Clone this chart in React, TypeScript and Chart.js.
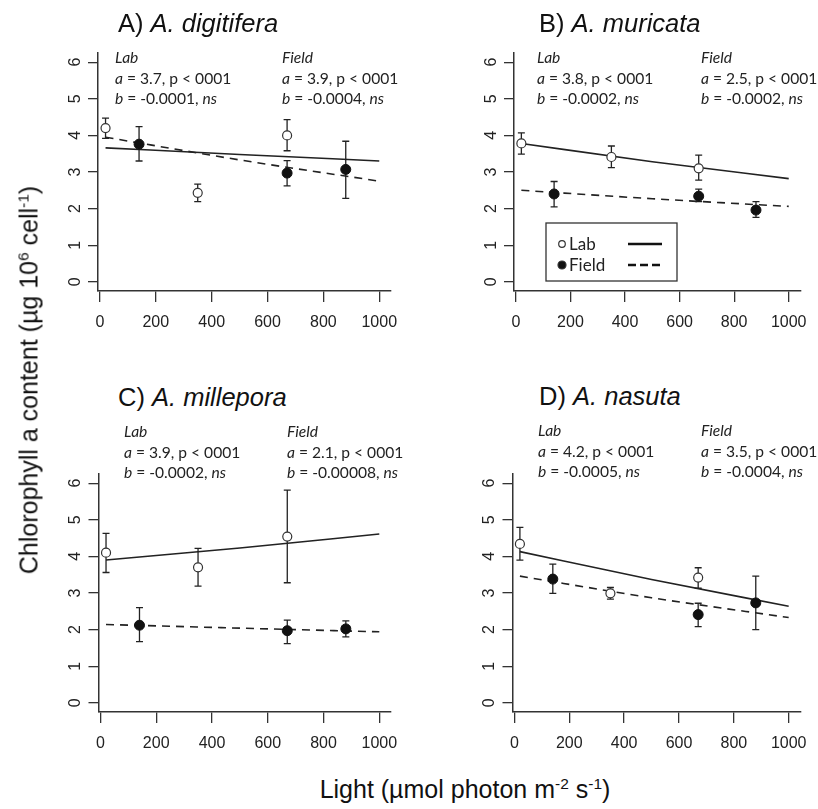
import React, { useEffect, useRef } from "react";
import { Chart, registerables } from "chart.js";
Chart.register(...registerables);

// ---------- data ----------
const xTicks = [0, 200, 400, 600, 800, 1000];
const yTicks = [0, 1, 2, 3, 4, 5, 6];
const labLight = [20, 350, 670];
const fieldLight = [140, 670, 880];
const fitLight = [20, 500, 1000];

// Panel A  A. digitifera
const labMeanA = [4.2, 2.43, 4.0];
const labLoA = [3.92, 2.19, 3.58];
const labHiA = [4.47, 2.67, 4.43];
const fieldMeanA = [3.76, 2.97, 3.07];
const fieldLoA = [3.3, 2.62, 2.28];
const fieldHiA = [4.24, 3.31, 3.84];
const labFitA = [3.66, 3.48, 3.3];
const fieldFitA = [3.95, 3.33, 2.75];

// Panel B  A. muricata
const labMeanB = [3.78, 3.41, 3.1];
const labLoB = [3.49, 3.12, 2.78];
const labHiB = [4.07, 3.71, 3.46];
const fieldMeanB = [2.4, 2.34, 1.96];
const fieldLoB = [2.05, 2.19, 1.76];
const fieldHiB = [2.74, 2.53, 2.19];
const labFitB = [3.78, 3.28, 2.82];
const fieldFitB = [2.5, 2.27, 2.06];

// Panel C  A. millepora
const labMeanC = [4.1, 3.7, 4.54];
const labLoC = [3.56, 3.19, 3.28];
const labHiC = [4.63, 4.22, 5.81];
const fieldMeanC = [2.12, 1.97, 2.02];
const fieldLoC = [1.67, 1.62, 1.8];
const fieldHiC = [2.6, 2.26, 2.24];
const labFitC = [3.9, 4.23, 4.61];
const fieldFitC = [2.14, 2.04, 1.94];

// Panel D  A. nasuta
const labMeanD = [4.34, 2.99, 3.42];
const labLoD = [3.9, 2.83, 3.13];
const labHiD = [4.79, 3.15, 3.69];
const fieldMeanD = [3.38, 2.41, 2.73];
const fieldLoD = [2.99, 2.08, 2.0];
const fieldHiD = [3.79, 2.72, 3.46];
const labFitD = [4.13, 3.37, 2.64];
const fieldFitD = [3.46, 2.87, 2.33];

const panelLetters = ["A)", "B)", "C)", "D)"];
const speciesNames = ["A. digitifera", "A. muricata", "A. millepora", "A. nasuta"];
const labA = ["3.7", "3.8", "3.9", "4.2"];
const labB = ["-0.0001", "-0.0002", "-0.0002", "-0.0005"];
const fieldA = ["3.9", "2.5", "2.1", "3.5"];
const fieldB = ["-0.0004", "-0.0002", "-0.00008", "-0.0004"];
const seriesNames = ["Lab", "Field"];

const labMeans = [labMeanA, labMeanB, labMeanC, labMeanD];
const labLos = [labLoA, labLoB, labLoC, labLoD];
const labHis = [labHiA, labHiB, labHiC, labHiD];
const fieldMeans = [fieldMeanA, fieldMeanB, fieldMeanC, fieldMeanD];
const fieldLos = [fieldLoA, fieldLoB, fieldLoC, fieldLoD];
const fieldHis = [fieldHiA, fieldHiB, fieldHiC, fieldHiD];
const labFits = [labFitA, labFitB, labFitC, labFitD];
const fieldFits = [fieldFitA, fieldFitB, fieldFitC, fieldFitD];

// ---------- layout ----------
const YW = 50;
const XH = 50;
const layouts = [
  { canvas: { left: 0, top: 0, w: 409, h: 345 }, area: { l: 98, t: 53, r: 391, b: 291 },
    title: { x: 118, y: 23 }, ann: { lx: 115, fx: 282, y: 47 }, legend: false },
  { canvas: { left: 409, top: 0, w: 409, h: 345 }, area: { l: 514, t: 53, r: 806, b: 291 },
    title: { x: 539, y: 23 }, ann: { lx: 537, fx: 701, y: 47 }, legend: true },
  { canvas: { left: 0, top: 420, w: 409, h: 345 }, area: { l: 98.5, t: 474, r: 391, b: 712 },
    title: { x: 118, y: 397 }, ann: { lx: 124, fx: 287, y: 421 }, legend: false },
  { canvas: { left: 409, top: 420, w: 409, h: 345 }, area: { l: 512.5, t: 474, r: 805, b: 712 },
    title: { x: 539, y: 396 }, ann: { lx: 538, fx: 701, y: 420 }, legend: false },
];

const INK = "#222";
const SANS = "'Liberation Sans', Arial, sans-serif";
const TICK_FONT = { family: SANS, size: 16 };

const errorBarPlugin = {
  id: "errbars",
  beforeDatasetsDraw(chart: any, _a: any, opts: any) {
    const { ctx } = chart;
    const xs = chart.scales.x;
    const ys = chart.scales.y;
    ctx.save();
    ctx.strokeStyle = INK;
    ctx.lineWidth = 1.3;
    for (const g of opts.groups || []) {
      g.x.forEach((xv: number, i: number) => {
        const px = xs.getPixelForValue(xv);
        const top = ys.getPixelForValue(g.hi[i]);
        const bot = ys.getPixelForValue(g.lo[i]);
        ctx.beginPath();
        ctx.moveTo(px, top);
        ctx.lineTo(px, bot);
        ctx.moveTo(px - 3.5, top);
        ctx.lineTo(px + 3.5, top);
        ctx.moveTo(px - 3.5, bot);
        ctx.lineTo(px + 3.5, bot);
        ctx.stroke();
      });
    }
    ctx.restore();
  },
};

const legendBoxPlugin = {
  id: "legendbox",
  afterDatasetsDraw(chart: any, _a: any, opts: any) {
    if (!opts.show) return;
    const { ctx, chartArea } = chart;
    const bx = chartArea.left + 32;
    const by = chartArea.top + 170;
    const bw = 131;
    const bh = 58;
    ctx.save();
    ctx.fillStyle = "#fff";
    ctx.fillRect(bx, by, bw, bh);
    ctx.strokeStyle = "#333";
    ctx.lineWidth = 1.3;
    ctx.strokeRect(bx, by, bw, bh);
    const rows = [by + 21, by + 42];
    const ds = chart.data.datasets;
    ctx.font = "17px Lato, sans-serif";
    ctx.textBaseline = "middle";
    [0, 1].forEach((i) => {
      const y = rows[i];
      ctx.beginPath();
      ctx.arc(bx + 16, y, i === 0 ? 3.3 : 4, 0, Math.PI * 2);
      ctx.fillStyle = i === 0 ? "#fff" : "#111";
      ctx.fill();
      ctx.strokeStyle = "#333";
      ctx.lineWidth = 1.2;
      ctx.stroke();
      ctx.fillStyle = "#222";
      ctx.fillText(ds[i].label, bx + 23, y + 1);
      ctx.beginPath();
      ctx.lineWidth = 2.6;
      ctx.strokeStyle = "#111";
      ctx.setLineDash(i === 0 ? [] : [8, 4]);
      ctx.moveTo(bx + 82, y);
      ctx.lineTo(bx + 116, y);
      ctx.stroke();
      ctx.setLineDash([]);
    });
    ctx.restore();
  },
};

function Panel({ idx }: { idx: number }) {
  const ref = useRef<HTMLCanvasElement | null>(null);
  const L = layouts[idx];
  useEffect(() => {
    const c = L.canvas;
    const a = L.area;
    const pad = {
      left: a.l - c.left - YW,
      top: a.t - c.top,
      right: c.left + c.w - a.r,
      bottom: c.top + c.h - a.b - XH,
    };
    const pts = (xs: number[], ys: number[]) => xs.map((x, i) => ({ x, y: ys[i] }));
    const chart = new Chart(ref.current as HTMLCanvasElement, {
      type: "scatter",
      data: {
        datasets: [
          {
            label: seriesNames[0],
            data: pts(labLight, labMeans[idx]),
            pointRadius: 4.5,
            pointBackgroundColor: "#fff",
            pointBorderColor: "#333",
            pointBorderWidth: 1.2,
            showLine: false,
            order: 0,
          },
          {
            label: seriesNames[1],
            data: pts(fieldLight, fieldMeans[idx]),
            pointRadius: 5,
            pointBackgroundColor: "#111",
            pointBorderColor: "#111",
            pointBorderWidth: 1,
            showLine: false,
            order: 0,
          },
          {
            label: seriesNames[0] + " fit",
            data: pts(fitLight, labFits[idx]),
            showLine: true,
            borderColor: INK,
            borderWidth: 1.6,
            pointRadius: 0,
            cubicInterpolationMode: "monotone",
            order: 1,
          },
          {
            label: seriesNames[1] + " fit",
            data: pts(fitLight, fieldFits[idx]),
            showLine: true,
            borderColor: INK,
            borderWidth: 1.6,
            borderDash: [8, 6],
            pointRadius: 0,
            cubicInterpolationMode: "monotone",
            order: 1,
          },
        ],
      },
      options: {
        animation: false,
        responsive: false,
        layout: { padding: pad },
        plugins: {
          legend: { display: false },
          tooltip: { enabled: false },
          title: { display: false },
          errbars: {
            groups: [
              { x: labLight, lo: labLos[idx], hi: labHis[idx] },
              { x: fieldLight, lo: fieldLos[idx], hi: fieldHis[idx] },
            ],
          },
          legendbox: { show: L.legend },
        } as any,
        scales: {
          x: {
            type: "linear",
            min: -7,
            max: 1042,
            afterBuildTicks: (s: any) => {
              s.ticks = xTicks.map((v) => ({ value: v }));
            },
            afterFit: (s: any) => {
              s.height = XH;
            },
            grid: { drawOnChartArea: false, drawTicks: true, tickLength: 11, color: "#333", lineWidth: 1.3 },
            border: { display: true, color: "#333", width: 1.5 },
            ticks: {
              font: TICK_FONT,
              color: INK,
              padding: 11,
              autoSkip: false,
              maxRotation: 0,
              callback: (v: any) => String(v),
            },
          },
          y: {
            type: "linear",
            min: -0.25,
            max: 6.25,
            afterBuildTicks: (s: any) => {
              s.ticks = yTicks.map((v) => ({ value: v }));
            },
            afterFit: (s: any) => {
              s.width = YW;
            },
            grid: { drawOnChartArea: false, drawTicks: true, tickLength: 10, color: "#333", lineWidth: 1.3 },
            border: { display: true, color: "#333", width: 1.5 },
            ticks: {
              font: TICK_FONT,
              color: INK,
              padding: 8,
              autoSkip: false,
              minRotation: 90,
              maxRotation: 90,
              crossAlign: "center",
              callback: (v: any) => String(v),
            },
          },
        },
      } as any,
      plugins: [errorBarPlugin, legendBoxPlugin] as any,
    });
    return () => chart.destroy();
  }, [idx]);
  return (
    <canvas
      ref={ref}
      width={L.canvas.w}
      height={L.canvas.h}
      style={{ position: "absolute", left: L.canvas.left, top: L.canvas.top, width: L.canvas.w, height: L.canvas.h }}
    />
  );
}

const annFont = "Lato, 'Open Sans', sans-serif";

function Stats({ x, y, head, a, b }: { x: number; y: number; head: string; a: string; b: string }) {
  return (
    <div
      style={{
        position: "absolute",
        left: x,
        top: y,
        fontFamily: annFont,
        fontSize: 15.6,
        lineHeight: "20.5px",
        color: "#222",
        whiteSpace: "nowrap",
      }}
    >
      <div><i>{head}</i></div>
      <div><i>a</i> = {a}, p &lt; 0001</div>
      <div><i>b</i> = {b}, <i>ns</i></div>
    </div>
  );
}

const sup: React.CSSProperties = { fontSize: "0.62em", position: "relative", top: "-0.6em", verticalAlign: "baseline" };

export default function App() {
  return (
    <div style={{ position: "fixed", left: 0, top: 0, width: 818, height: 809, background: "#fff", overflow: "hidden" }}>
      {layouts.map((_, i) => (
        <Panel key={i} idx={i} />
      ))}
      {layouts.map((L, i) => (
        <div
          key={"t" + i}
          style={{
            position: "absolute",
            left: L.title.x,
            top: L.title.y - 14,
            lineHeight: "28px",
            fontFamily: SANS,
            fontSize: 25.5,
            color: "#111",
            whiteSpace: "nowrap",
          }}
        >
          {panelLetters[i]} <i>{speciesNames[i]}</i>
        </div>
      ))}
      {layouts.map((L, i) => (
        <React.Fragment key={"s" + i}>
          <Stats x={L.ann.lx} y={L.ann.y} head={seriesNames[0]} a={labA[i]} b={labB[i]} />
          <Stats x={L.ann.fx} y={L.ann.y} head={seriesNames[1]} a={fieldA[i]} b={fieldB[i]} />
        </React.Fragment>
      ))}
      <div
        style={{
          position: "absolute",
          left: 29,
          top: 380,
          transform: "translate(-50%, -50%) rotate(-90deg)",
          fontFamily: SANS,
          fontSize: 25,
          color: "#111",
          whiteSpace: "nowrap",
        }}
      >
        Chlorophyll a content (µg 10<span style={sup}>6</span> cell<span style={sup}>-1</span>)
      </div>
      <div
        style={{
          position: "absolute",
          left: 465,
          top: 789,
          transform: "translate(-50%, -50%)",
          fontFamily: SANS,
          fontSize: 25,
          color: "#111",
          whiteSpace: "nowrap",
        }}
      >
        Light (µmol photon m<span style={sup}>-2</span> s<span style={sup}>-1</span>)
      </div>
    </div>
  );
}
